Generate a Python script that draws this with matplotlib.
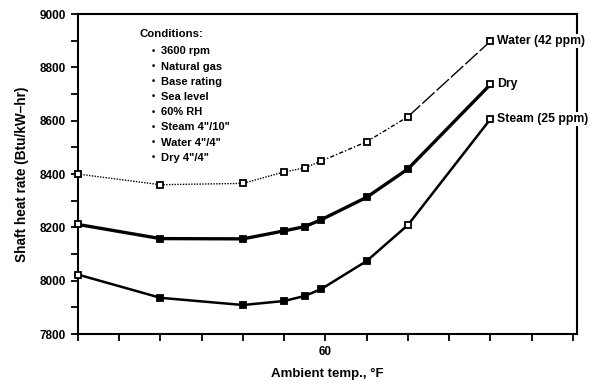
import matplotlib.pyplot as plt
import numpy as np
from matplotlib.ticker import MultipleLocator, FixedLocator

plt.rcParams['font.family'] = ['Liberation Sans', 'DejaVu Sans']

temps = [0, 20, 40, 50, 55, 59, 70, 80, 100]
water = [8400, 8360, 8365, 8408, 8423, 8449, 8521, 8615, 8898]
dry = [8211, 8158, 8157, 8187, 8203, 8229, 8313, 8419, 8736]
steam = [8023, 7936, 7909, 7924, 7943, 7969, 8074, 8209, 8606]

# which points are drawn as open squares
open_water = [0, 1, 2, 3, 4, 5, 6, 7, 8]
open_dry = [0, 8]
open_steam = [0, 7, 8]

end_labels = ['Water (42 ppm)', 'Dry', 'Steam (25 ppm)']
conditions = ['3600 rpm', 'Natural gas', 'Base rating', 'Sea level', '60% RH',
              'Steam 4"/10"', 'Water 4"/4"', 'Dry 4"/4"']

fig = plt.figure(figsize=(5.94, 3.84), dpi=100)
ax = fig.add_axes([0.1313, 0.130, 0.8401, 0.8335])

t = np.array(temps)
w = np.array(water)
# water line changes style along the curve
ax.plot(t[:6], w[:6], color='black', lw=1.0, ls=(0, (1, 1)))
ax.plot(t[5:8], w[5:8], color='black', lw=1.0, ls=(0, (3, 1.5, 1, 1.5)))
ax.plot(t[7:], w[7:], color='black', lw=1.0, ls=(0, (12, 2)))
ax.plot(temps, dry, color='black', lw=2.4)
ax.plot(temps, steam, color='black', lw=1.8)


def draw_markers(vals, open_idx):
    for i, (x, y) in enumerate(zip(temps, vals)):
        fc = 'white' if i in open_idx else 'black'
        ax.plot(x, y, marker='s', ms=5.0, mfc=fc, mec='black', mew=1.3, zorder=5, clip_on=False)


draw_markers(water, open_water)
draw_markers(dry, open_dry)
draw_markers(steam, open_steam)

for lab, vals in zip(end_labels, [water, dry, steam]):
    ax.annotate(lab, (temps[-1], vals[-1]), xytext=(5, 0), textcoords='offset points',
                va='center', ha='left', fontsize=8.8, fontweight='bold', zorder=6,
                bbox=dict(facecolor='white', edgecolor='none', pad=0.5))

ax.text(15.0, 8925, 'Conditions:', fontsize=8.2, fontweight='bold', va='center')
for k, c in enumerate(conditions):
    yy = 8860 - k * 57
    ax.text(18.0, yy, '\u2022', fontsize=6.5, fontweight='bold', va='center')
    ax.text(20.2, yy, c, fontsize=8.0, fontweight='bold', va='center')

ax.set_xlim(0, 121)
ax.set_ylim(7800, 9000)
ax.xaxis.set_major_locator(FixedLocator([60]))
ax.xaxis.set_minor_locator(MultipleLocator(10))
ax.yaxis.set_major_locator(MultipleLocator(200))
ax.yaxis.set_minor_locator(MultipleLocator(100))
ax.tick_params(which='both', direction='out', width=1.3, length=5, labelsize=8.5)
for lab in ax.get_xticklabels() + ax.get_yticklabels():
    lab.set_fontweight('bold')
for s in ax.spines.values():
    s.set_linewidth(1.5)

ax.set_xlabel('Ambient temp., \u00b0F', fontsize=9.5, fontweight='bold', labelpad=7)
ax.set_ylabel('Shaft heat rate (Btu/kW\u2013hr)', fontsize=9.8, fontweight='bold', labelpad=8)

plt.savefig('out.png', dpi=100)
